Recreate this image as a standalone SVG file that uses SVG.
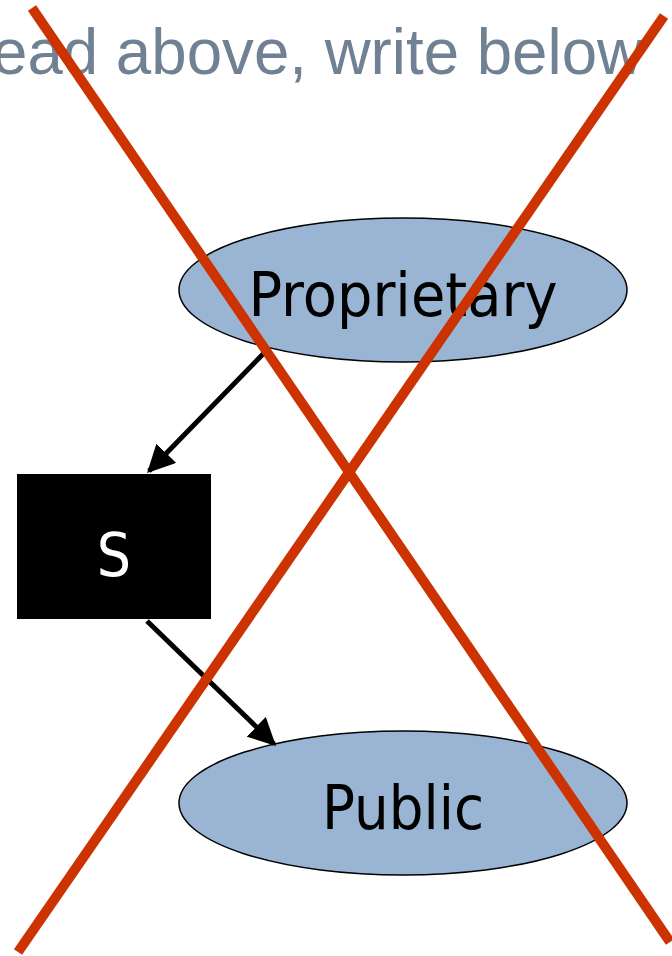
<svg xmlns="http://www.w3.org/2000/svg" width="672" height="956" viewBox="0 0 672 956">
<defs>
<style>
.node{fill:#9AB5D3;stroke:#000;stroke-width:1.5}
.lbl{font-family:"DejaVu Sans Condensed","DejaVu Sans",sans-serif;font-size:60px;text-anchor:middle}
.conn{stroke:#000;stroke-width:5;fill:none}
.cross{stroke:#CC3300;stroke-width:10;stroke-linecap:butt}
</style>
<marker id="arr" viewBox="0 0 10 10" refX="9" refY="5" markerWidth="5.5" markerHeight="5.5" markerUnits="strokeWidth" orient="auto">
<path d="M0,0 L10,5 L0,10 z" fill="#000"/>
</marker>
</defs>
<rect width="672" height="956" fill="#fff"/>
<text x="-8" y="74" font-family="'Liberation Sans',Arial,sans-serif" font-size="64" fill="#6F8193" textLength="651" lengthAdjust="spacingAndGlyphs">ead above, write below</text>
<g id="proprietary">
<ellipse class="node" cx="403" cy="290" rx="224" ry="72"/>
<text class="lbl" x="403" y="316" textLength="309" lengthAdjust="spacingAndGlyphs">Proprietary</text>
</g>
<g id="s">
<rect x="17" y="474" width="194" height="145" fill="#000"/>
<text class="lbl" x="114" y="576" fill="#fff">S</text>
</g>
<g id="public">
<ellipse class="node" cx="403" cy="803" rx="224" ry="72"/>
<text class="lbl" x="403" y="829" textLength="162" lengthAdjust="spacingAndGlyphs">Public</text>
</g>
<g id="connectors">
<line class="conn" x1="265" y1="352" x2="149" y2="471" marker-end="url(#arr)"/>
<line class="conn" x1="147" y1="621" x2="274" y2="744" marker-end="url(#arr)"/>
</g>
<g id="cross">
<line class="cross" x1="32" y1="8" x2="670" y2="942"/>
<line class="cross" x1="664" y1="16" x2="18" y2="952"/>
</g>
</svg>
